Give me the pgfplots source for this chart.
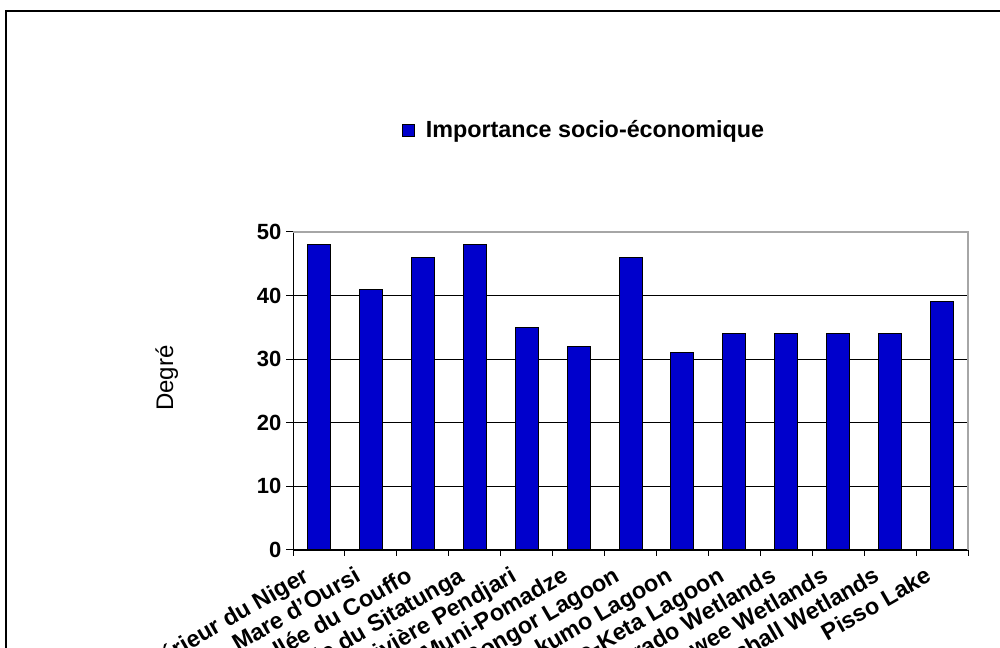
\documentclass[border=0pt]{standalone}
\usepackage{pgfplots}
\pgfplotsset{compat=1.18}
\usepackage{fontspec}
\setmainfont{Liberation Sans}
\definecolor{barblue}{RGB}{0,0,204}

\begin{document}
\begin{tikzpicture}
\path[use as bounding box] (0,0) rectangle (750pt,486pt);
\clip (0,0) rectangle (750pt,486pt);
% outer frame
\draw[line width=1.5pt] (750pt,477.75pt) -- (4.5pt,477.75pt) -- (4.5pt,0pt);
\begin{axis}[
  at={(219.75pt,73.5pt)}, anchor=south west,
  scale only axis, width=506.25pt, height=238.5pt,
  ybar, bar width=17.25pt,
  xmin=-0.5, xmax=12.5, ymin=0, ymax=50,
  axis x line*=bottom, axis y line*=left,
  axis line style={black, line width=0.75pt},
  ytick={0,10,...,50},
  xtick={0,...,12},
  minor xtick={-0.5,0.5,...,12.5},
  xticklabels={Delta intérieur du Niger, Mare d'Oursi, Basse Vallée du Couffo, Vallée du Sitatunga, Rivière Pendjari, Muni-Pomadze, Songor Lagoon, Sakumo Lagoon, Anlo-Keta Lagoon, Mesurado Wetlands, Kpatawee Wetlands, Marshall Wetlands, Pisso Lake},
  tick align=outside,
  major tick length=5.25pt, minor tick length=4.5pt,
  major x tick style={draw=none},
  minor x tick style={black, line width=0.75pt},
  major y tick style={black, line width=0.75pt},
  ymajorgrids, grid style={black, line width=0.6pt},
  /pgf/number format/assume math mode=true,
  yticklabel style={font=\fontsize{16.5}{18}\selectfont\bfseries},
  xticklabel style={font=\fontsize{17.5}{19}\selectfont\bfseries, xshift=-12.6pt, yshift=-5pt, rotate=30, anchor=north east, inner sep=1pt},
  ylabel={Degré},
  ylabel style={font=\fontsize{18}{20}\selectfont, at={(axis description cs:-0.187,0.54)}, anchor=center},
  legend style={at={(axis description cs:0.434,1.321)}, anchor=center, draw=none, fill=none,
    font=\fontsize{17.5}{20}\selectfont\bfseries, legend cell align=left,
    nodes={inner xsep=4pt}},
  after end axis/.code={
    \draw[gray!70, line width=1pt] (rel axis cs:0,1) -- (rel axis cs:1,1) -- (rel axis cs:1,0);
  },
]
\addplot[fill=barblue, draw=black, line width=0.75pt,
  legend image code/.code={
    \draw[fill=barblue, draw=black, line width=0.6pt] (0pt,-4.5pt) rectangle (9pt,4.5pt);}]
  coordinates {(0,48) (1,41) (2,46) (3,48) (4,35) (5,32) (6,46) (7,31) (8,34) (9,34) (10,34) (11,34) (12,39)};
\addlegendentry{\hspace{4pt}Importance socio-économique}
\end{axis}
\end{tikzpicture}
\end{document}
